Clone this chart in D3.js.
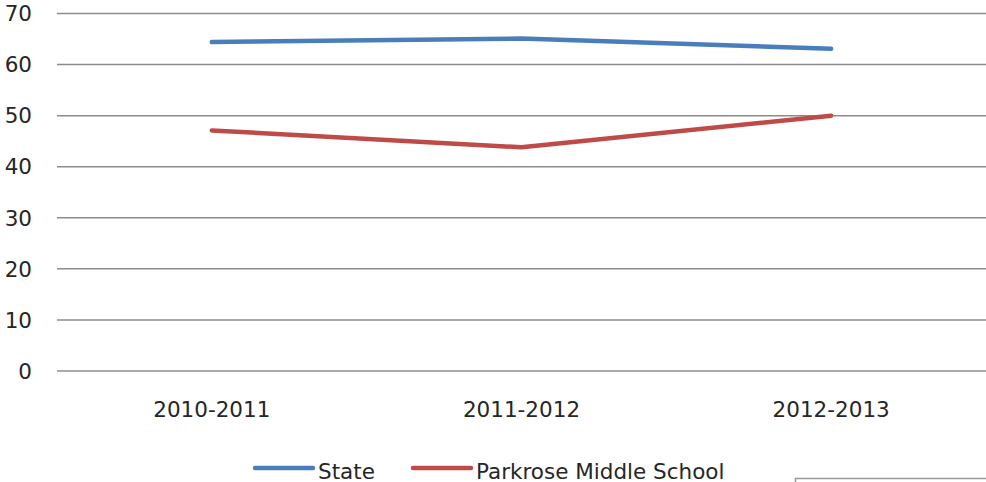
<!DOCTYPE html>
<html>
<head>
<meta charset="utf-8">
<script src="https://cdn.jsdelivr.net/npm/d3@7"></script>
<style>
  body { margin: 0; background: #fff; }
</style>
</head>
<body>
<div></div>
<script>
const width = 986, height = 482

// data
const years = ["2010-2011", "2011-2012", "2012-2013"]
const stateValues = [64.4, 65.1, 63.1]
const parkroseValues = [47.1, 43.8, 50]
const seriesNames = ["State", "Parkrose Middle School"]
const seriesColors = ["#4A7EBB", "#BE4B48"]
const yTicks = [0, 10, 20, 30, 40, 50, 60, 70]

const font = "'DejaVu Sans', Verdana, sans-serif"
const fontSize = 21.5

const svg = d3.select("div")
    .append("svg")
    .attr("xmlns", "http://www.w3.org/2000/svg")
    .attr("width", width)
    .attr("height", height)

// scales
const x = d3.scaleBand().domain(years).range([57, 986])
const y = d3.scaleLinear().domain([0, 70]).range([371, 13.5])

// gridlines
svg.selectAll().data(yTicks).enter().append("line")
    .attr("x1", 57).attr("x2", 986)
    .attr("y1", d => y(d)).attr("y2", d => y(d))
    .attr("stroke", "#8c8c8c")
    .attr("stroke-width", 1.5)

// y tick labels
svg.selectAll().data(yTicks).enter().append("text")
    .attr("x", 32)
    .attr("y", d => y(d))
    .attr("dy", "0.36em")
    .attr("text-anchor", "end")
    .attr("font-family", font)
    .attr("font-size", fontSize)
    .attr("fill", "#262626")
    .text(d => d)

// x labels
svg.selectAll().data(years).enter().append("text")
    .attr("x", d => x(d) + x.bandwidth()/2)
    .attr("y", 417)
    .attr("text-anchor", "middle")
    .attr("font-family", font)
    .attr("font-size", fontSize)
    .attr("fill", "#262626")
    .text(d => d)

// lines
const line = d3.line()
    .x((d, i) => x(years[i]) + x.bandwidth()/2)
    .y(d => y(d))
const series = [stateValues, parkroseValues]
svg.selectAll().data(series).enter().append("path")
    .attr("d", d => line(d))
    .attr("fill", "none")
    .attr("stroke", (d, i) => seriesColors[i])
    .attr("stroke-width", 4.5)
    .attr("stroke-linecap", "round")
    .attr("stroke-linejoin", "round")

// legend
const legendX = [255, 413]
const legend = svg.selectAll().data(seriesNames).enter().append("g")
    .attr("transform", (d, i) => `translate(${legendX[i]},468)`)
legend.append("line")
    .attr("x1", 0).attr("x2", 58)
    .attr("stroke", (d, i) => seriesColors[i])
    .attr("stroke-width", 4.5)
    .attr("stroke-linecap", "round")
legend.append("text")
    .attr("x", 63)
    .attr("y", 11)
    .attr("font-family", font)
    .attr("font-size", fontSize)
    .attr("fill", "#262626")
    .text(d => d)

// stray box edge at bottom right
svg.append("path")
    .attr("d", "M795.5,486 V478.5 H990")
    .attr("fill", "none")
    .attr("stroke", "#999")
    .attr("stroke-width", 1.5)
</script>
</body>
</html>
